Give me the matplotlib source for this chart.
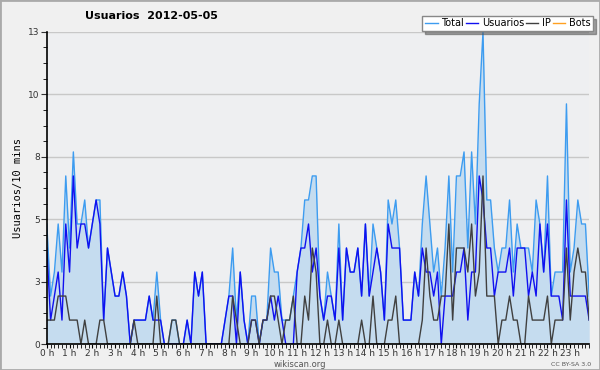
import numpy as np
import matplotlib
matplotlib.use('Agg')
import matplotlib.pyplot as plt
from matplotlib.patches import Rectangle

# values per 10-minute slot, 144 slots (0h .. 23h50)
total = [5, 2, 3, 5, 3, 7, 4, 8, 5, 5, 6, 4, 5, 6, 6, 1, 4, 3, 2, 2,
         3, 2, 0, 1, 1, 1, 1, 2, 1, 3, 1, 0, 0, 1, 1, 0, 0, 1, 0, 3,
         2, 3, 0, 0, 0, 0, 0, 1, 2, 4, 1, 3, 1, 0, 2, 2, 0, 1, 1, 4,
         3, 3, 1, 1, 1, 2, 3, 4, 6, 6, 7, 7, 2, 1, 3, 2, 1, 5, 1, 4,
         3, 3, 4, 2, 5, 2, 5, 4, 3, 1, 6, 5, 6, 4, 1, 1, 1, 3, 2, 5,
         7, 5, 3, 4, 2, 4, 7, 3, 7, 7, 8, 4, 8, 5, 10, 13, 6, 6, 4, 3,
         4, 4, 6, 3, 5, 4, 4, 4, 3, 6, 5, 3, 7, 2, 3, 3, 3, 10, 3, 4,
         6, 5, 5, 2]
usuarios = [4, 1, 2, 3, 1, 5, 3, 7, 4, 5, 5, 4, 5, 6, 5, 1, 4, 3, 2, 2,
            3, 2, 0, 1, 1, 1, 1, 2, 1, 1, 1, 0, 0, 0, 0, 0, 0, 1, 0, 3,
            2, 3, 0, 0, 0, 0, 0, 1, 2, 2, 0, 3, 1, 0, 1, 1, 0, 1, 1, 2,
            1, 2, 1, 0, 0, 0, 3, 4, 4, 5, 3, 4, 2, 1, 2, 2, 1, 4, 1, 4,
            3, 3, 4, 2, 5, 2, 3, 4, 3, 1, 5, 4, 4, 4, 1, 1, 1, 3, 2, 4,
            3, 3, 2, 3, 0, 2, 2, 2, 3, 3, 4, 1, 3, 3, 7, 6, 4, 4, 2, 3,
            3, 3, 4, 2, 4, 4, 4, 2, 3, 2, 5, 3, 5, 2, 2, 2, 1, 6, 2, 2,
            2, 2, 2, 1]
ip = [1, 1, 1, 2, 2, 2, 1, 1, 1, 0, 1, 0, 0, 0, 1, 1, 0, 0, 0, 0,
      0, 0, 0, 1, 0, 0, 0, 0, 0, 2, 0, 0, 0, 1, 1, 0, 0, 0, 0, 0,
      0, 0, 0, 0, 0, 0, 0, 0, 0, 2, 1, 0, 0, 0, 1, 1, 0, 1, 1, 2,
      2, 1, 0, 1, 1, 2, 0, 0, 2, 1, 4, 3, 0, 0, 1, 0, 0, 1, 0, 0,
      0, 0, 0, 1, 0, 0, 2, 0, 0, 0, 1, 1, 2, 0, 0, 0, 0, 0, 0, 1,
      4, 2, 1, 1, 2, 2, 5, 1, 4, 4, 4, 3, 5, 2, 3, 7, 2, 2, 2, 0,
      1, 1, 2, 1, 1, 0, 0, 2, 1, 1, 1, 1, 2, 0, 1, 1, 1, 4, 1, 3,
      4, 3, 3, 1]
bots = [0] * 144

hour_labels = ['%d h' % h for h in range(24)]

x = np.arange(len(total))

fig = plt.figure(figsize=(6, 3.7), dpi=100, facecolor='#f0f0f0')
ax = fig.add_axes([0.078, 0.070, 0.904, 0.844])
ax.set_facecolor('#eeeff1')

ax.fill_between(x, total, 0, color='#c5dcef', lw=0)
ax.plot(x, total, color='#3d9cf0', lw=1, label='Total')
ax.plot(x, usuarios, color='#1010f0', lw=1, label='Usuarios')
ax.plot(x, ip, color='#404040', lw=1, label='IP')
ax.plot(x, bots, color='#ffa020', lw=1, label='Bots', zorder=1)

ax.set_xlim(0, 143)
ax.set_ylim(0, 13)
yt = np.linspace(0, 13, 6)
ax.set_yticks(yt)
ax.set_yticklabels(['%d' % round(v) for v in yt])
ax.set_yticks(np.arange(0, 13.01, 0.65), minor=True)
ax.set_xticks(np.arange(0, 144, 6))
ax.set_xticklabels(hour_labels)
ax.set_xticks(np.arange(0, 144, 1), minor=True)
ax.grid(axis='y', color='#c8c8c8', lw=1)
ax.set_axisbelow(True)

for s in ['top', 'right']:
    ax.spines[s].set_visible(False)
ax.spines['left'].set_linewidth(1.2)
ax.spines['bottom'].set_linewidth(1.2)
ax.tick_params(axis='both', which='major', labelsize=6.5, colors='#333333', length=4, pad=1)
ax.tick_params(axis='x', which='minor', length=3, color='black')
ax.tick_params(axis='y', which='minor', length=3, color='black')
ax.tick_params(axis='x', which='major', color='black', length=3, pad=0.5)

ax.set_ylabel('Usuarios/10 mins', family='DejaVu Sans Mono', fontsize=7.5, labelpad=4)

fig.text(0.142, 0.958, 'Usuarios  2012-05-05', fontsize=8, fontweight='bold', va='center')
fig.text(0.5, 0.016, 'wikiscan.org', fontsize=6, color='#555555', ha='center', va='center')
fig.text(0.985, 0.016, 'CC BY-SA 3.0', fontsize=4.5, color='#555555', ha='right', va='center')

leg = ax.legend(loc='upper right', bbox_to_anchor=(0.988, 0.957), bbox_transform=fig.transFigure,
                ncol=4, fontsize=7, frameon=True, fancybox=False, shadow=True,
                handlelength=1.3, handletextpad=0.35, columnspacing=0.2,
                borderpad=0.25, borderaxespad=0)
leg.get_frame().set_edgecolor('#888888')
leg.get_frame().set_linewidth(1)

fig.patches.append(Rectangle((0, 0), 1, 1, transform=fig.transFigure, fill=False,
                             edgecolor='#aaaaaa', lw=2))

plt.savefig('out.png', dpi=100, facecolor=fig.get_facecolor())
